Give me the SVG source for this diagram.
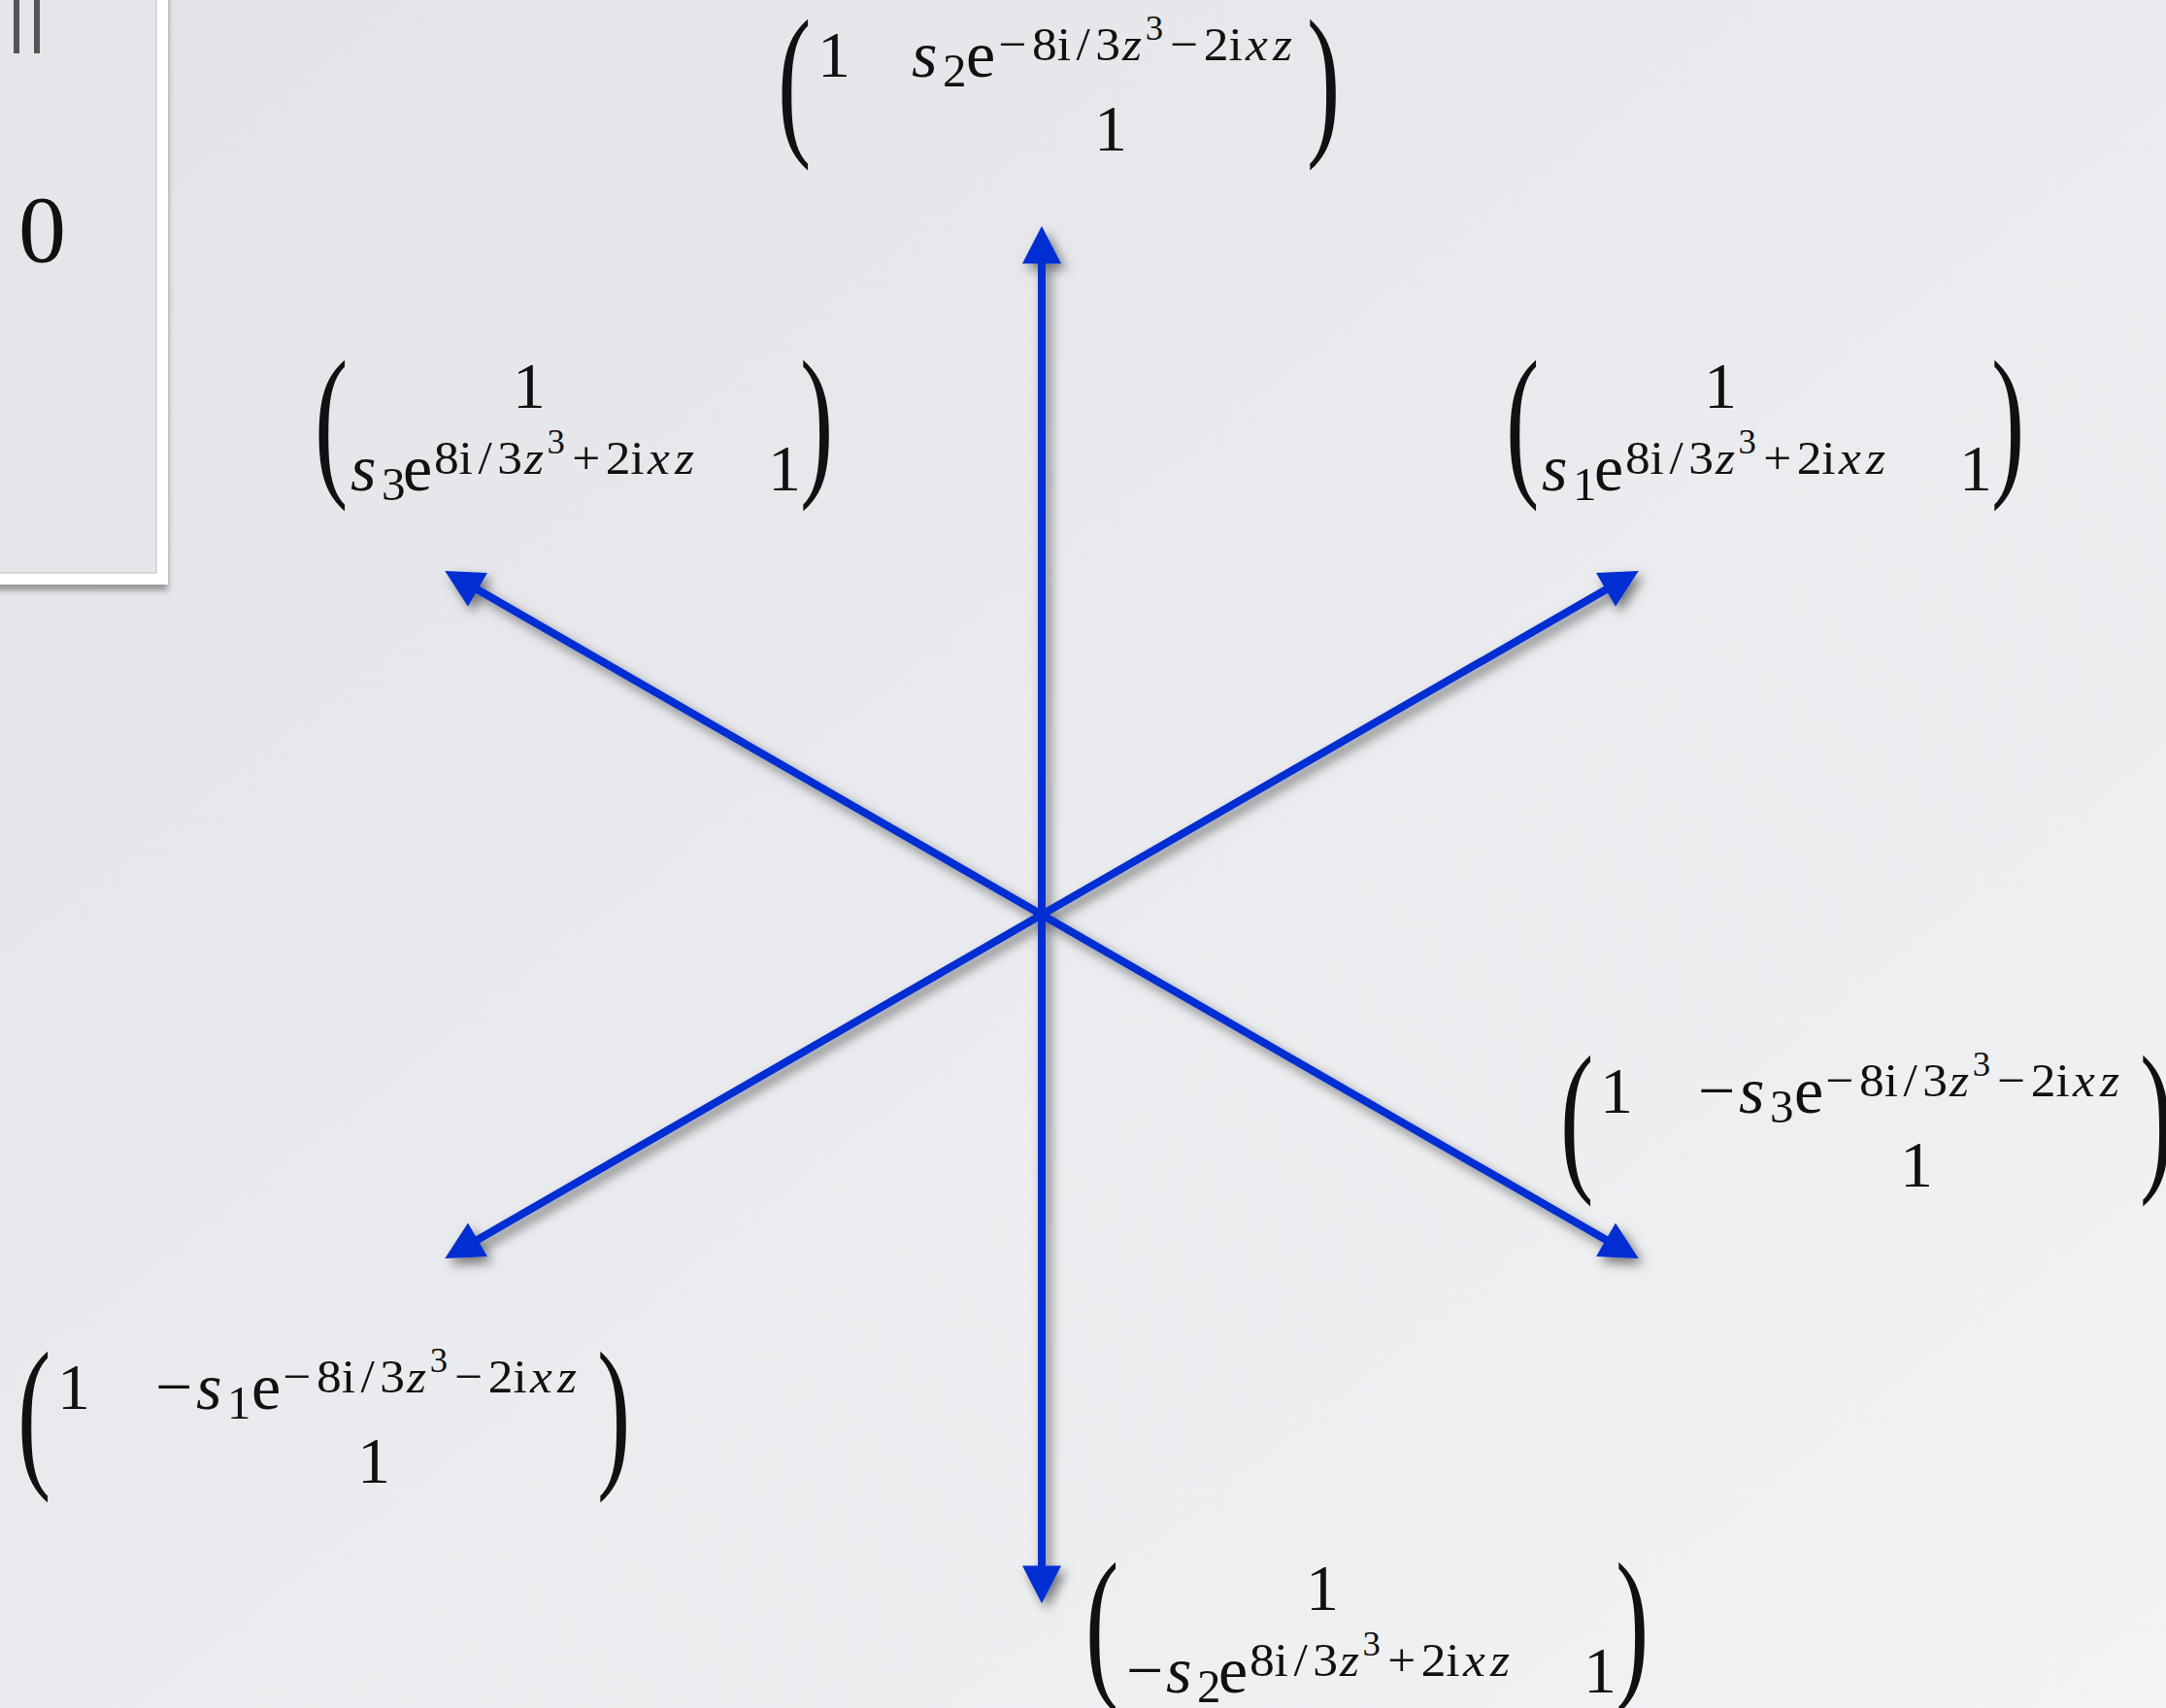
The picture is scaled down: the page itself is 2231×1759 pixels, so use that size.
<svg xmlns="http://www.w3.org/2000/svg" width="2231" height="1759" viewBox="0 0 2231 1759">
<defs>
<linearGradient id="bg" x1="0" y1="0" x2="1" y2="1">
<stop offset="0" stop-color="#e1e3e7"/>
<stop offset="1" stop-color="#f2f3f5"/>
</linearGradient>
<filter id="sh" x="-10%" y="-10%" width="120%" height="120%">
<feDropShadow dx="5" dy="6" stdDeviation="6" flood-color="#000" flood-opacity="0.5"/>
</filter>
<filter id="psh" x="-20%" y="-20%" width="140%" height="140%">
<feDropShadow dx="0" dy="6" stdDeviation="3" flood-color="#000" flood-opacity="0.35"/>
</filter>
<marker id="ah" markerUnits="userSpaceOnUse" markerWidth="40" markerHeight="40" viewBox="0 0 34 35" refX="4" refY="17.5" orient="auto-start-reverse">
<path d="M0,0 L34,17.5 L0,35 z" fill="#002dd2"/>
</marker>
<style>
.m{font-family:"Liberation Serif","Times New Roman",serif;font-size:68px;fill:#111}
.sup{font-size:49px}
.ss{font-size:35px}
.it{font-style:italic}
.mid{text-anchor:middle}
.paren{font-family:"Liberation Serif","Times New Roman",serif;font-size:172px;fill:#111}
.ray{stroke:#002dd2;stroke-width:8;fill:none;marker-start:url(#ah);marker-end:url(#ah)}
</style>
</defs>
<rect width="2231" height="1759" fill="url(#bg)"/>

<g id="panel">
<rect x="-30" y="-30" width="197" height="626" fill="#e4e6ea" stroke="#ffffff" stroke-width="12" filter="url(#psh)"/>
<rect x="-30" y="-30" width="191" height="620" fill="none" stroke="#b9bbbf" stroke-width="1"/>
<rect x="14" y="0" width="6" height="55" fill="#555"/>
<rect x="35" y="0" width="6" height="55" fill="#555"/>
<text class="m" x="19" y="269" style="font-size:98px">0</text>
</g>

<g id="connectors" filter="url(#sh)">
<line class="ray" x1="1073" y1="267" x2="1073" y2="1617"/>
<line class="ray" x1="488" y1="605" x2="1658" y2="1279"/>
<line class="ray" x1="488" y1="1279" x2="1658" y2="605"/>
</g>

<g id="m-top" transform="translate(806,21)">
<text class="paren" transform="translate(-5,118) scale(0.6,1)">(</text>
<text class="m mid" x="53" y="58">1</text>
<text class="m it" x="133" y="58">s</text>
<text class="m sup" x="165" y="68">2</text>
<text class="m" x="189" y="58">e</text>
<text class="m sup" transform="translate(217,41) scale(1.05,1)"><tspan x="5.29" y="0">−</tspan><tspan x="38.05">8</tspan><tspan x="62.52">i</tspan><tspan x="81.52">/</tspan><tspan x="100.33">3</tspan><tspan class="it" x="126.67">z</tspan><tspan class="ss" x="149.24" y="-21">3</tspan><tspan x="173.67" y="0">−</tspan><tspan x="206.43">2</tspan><tspan x="230.9">i</tspan><tspan class="it" x="247.62">x</tspan><tspan class="it" x="274.38">z</tspan></text>
<text class="m mid" x="338" y="134">1</text>
<text class="paren" transform="translate(540,118) scale(0.6,1)">)</text>
</g>

<g id="m-lower-right" transform="translate(1612,1088)">
<text class="paren" transform="translate(-5,118) scale(0.6,1)">(</text>
<text class="m mid" x="53" y="58">1</text>
<text class="m" x="137" y="58">−</text>
<text class="m it" x="179" y="58">s</text>
<text class="m sup" x="211" y="68">3</text>
<text class="m" x="236" y="58">e</text>
<text class="m sup" transform="translate(263,41) scale(1.05,1)"><tspan x="5.29" y="0">−</tspan><tspan x="38.05">8</tspan><tspan x="62.52">i</tspan><tspan x="81.52">/</tspan><tspan x="100.33">3</tspan><tspan class="it" x="126.67">z</tspan><tspan class="ss" x="149.24" y="-21">3</tspan><tspan x="173.67" y="0">−</tspan><tspan x="206.43">2</tspan><tspan x="230.9">i</tspan><tspan class="it" x="247.62">x</tspan><tspan class="it" x="274.38">z</tspan></text>
<text class="m mid" x="362" y="134">1</text>
<text class="paren" transform="translate(592,118) scale(0.6,1)">)</text>
</g>

<g id="m-lower-left" transform="translate(23,1393)">
<text class="paren" transform="translate(-5,118) scale(0.6,1)">(</text>
<text class="m mid" x="53" y="58">1</text>
<text class="m" x="137" y="58">−</text>
<text class="m it" x="179" y="58">s</text>
<text class="m sup" x="211" y="68">1</text>
<text class="m" x="236" y="58">e</text>
<text class="m sup" transform="translate(263,41) scale(1.05,1)"><tspan x="5.29" y="0">−</tspan><tspan x="38.05">8</tspan><tspan x="62.52">i</tspan><tspan x="81.52">/</tspan><tspan x="100.33">3</tspan><tspan class="it" x="126.67">z</tspan><tspan class="ss" x="149.24" y="-21">3</tspan><tspan x="173.67" y="0">−</tspan><tspan x="206.43">2</tspan><tspan x="230.9">i</tspan><tspan class="it" x="247.62">x</tspan><tspan class="it" x="274.38">z</tspan></text>
<text class="m mid" x="362" y="134">1</text>
<text class="paren" transform="translate(592,118) scale(0.6,1)">)</text>
</g>

<g id="m-upper-left" transform="translate(329,372)">
<text class="paren" transform="translate(-5,118) scale(0.6,1)">(</text>
<text class="m mid" x="216" y="48">1</text>
<text class="m it" x="32" y="133">s</text>
<text class="m sup" x="64" y="143">3</text>
<text class="m" x="86" y="133">e</text>
<text class="m sup" transform="translate(118,116) scale(1.05,1)"><tspan x="0" y="0">8</tspan><tspan x="24.33">i</tspan><tspan x="43.33">/</tspan><tspan x="62.14">3</tspan><tspan class="it" x="88.48">z</tspan><tspan class="ss" x="111.05" y="-21">3</tspan><tspan x="135.48" y="0">+</tspan><tspan x="168.24">2</tspan><tspan x="192.71">i</tspan><tspan class="it" x="209.43">x</tspan><tspan class="it" x="236.19">z</tspan></text>
<text class="m mid" x="479" y="133">1</text>
<text class="paren" transform="translate(495,118) scale(0.6,1)">)</text>
</g>

<g id="m-upper-right" transform="translate(1556,372)">
<text class="paren" transform="translate(-5,118) scale(0.6,1)">(</text>
<text class="m mid" x="216" y="48">1</text>
<text class="m it" x="32" y="133">s</text>
<text class="m sup" x="64" y="143">1</text>
<text class="m" x="86" y="133">e</text>
<text class="m sup" transform="translate(118,116) scale(1.05,1)"><tspan x="0" y="0">8</tspan><tspan x="24.33">i</tspan><tspan x="43.33">/</tspan><tspan x="62.14">3</tspan><tspan class="it" x="88.48">z</tspan><tspan class="ss" x="111.05" y="-21">3</tspan><tspan x="135.48" y="0">+</tspan><tspan x="168.24">2</tspan><tspan x="192.71">i</tspan><tspan class="it" x="209.43">x</tspan><tspan class="it" x="236.19">z</tspan></text>
<text class="m mid" x="479" y="133">1</text>
<text class="paren" transform="translate(495,118) scale(0.6,1)">)</text>
</g>

<g id="m-bottom" transform="translate(1123,1610)">
<text class="paren" transform="translate(-5,118) scale(0.6,1)">(</text>
<text class="m mid" x="239" y="48">1</text>
<text class="m" x="37" y="133">−</text>
<text class="m it" x="78" y="133">s</text>
<text class="m sup" x="110" y="143">2</text>
<text class="m" x="132" y="133">e</text>
<text class="m sup" transform="translate(164,116) scale(1.05,1)"><tspan x="0" y="0">8</tspan><tspan x="24.33">i</tspan><tspan x="43.33">/</tspan><tspan x="62.14">3</tspan><tspan class="it" x="88.48">z</tspan><tspan class="ss" x="111.05" y="-21">3</tspan><tspan x="135.48" y="0">+</tspan><tspan x="168.24">2</tspan><tspan x="192.71">i</tspan><tspan class="it" x="209.43">x</tspan><tspan class="it" x="236.19">z</tspan></text>
<text class="m mid" x="525" y="133">1</text>
<text class="paren" transform="translate(541,118) scale(0.6,1)">)</text>
</g>
</svg>
